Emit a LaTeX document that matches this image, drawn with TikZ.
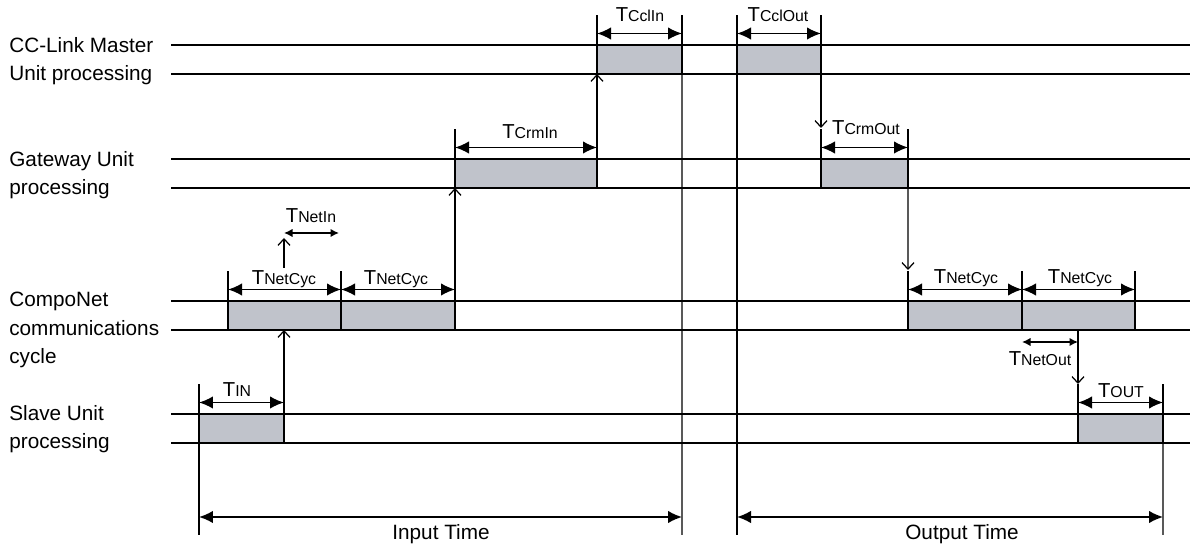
\documentclass[tikz,border=0pt]{standalone}
\usepackage{fontspec}
\setmainfont{Liberation Sans}
\usetikzlibrary{arrows.meta}

\definecolor{busygray}{RGB}{192,195,203}

\tikzset{
	lane/.style={line width=0.9pt},
	busy/.style={draw, line width=0.9pt, fill=busygray, inner sep=0pt, outer sep=0pt,
		anchor=north west, minimum height=0.58cm},
	tickline/.style={line width=0.7pt},
	dim/.style={{Latex[length=2.8mm,width=2.5mm]}-{Latex[length=2.8mm,width=2.5mm]}, line width=0.9pt},
	smalldim/.style={{Latex[length=1.7mm,width=1.7mm]}-{Latex[length=1.7mm,width=1.7mm]}, line width=0.9pt},
	flow/.style={-{Straight Barb[length=1.3mm,width=2.4mm]}, line width=0.7pt},
	lanelabel/.style={anchor=base west, align=left, inner sep=0pt,
		font=\fontsize{11.8}{16.5}\selectfont},
	tlabel/.style={anchor=base, inner sep=0pt, font=\fontsize{11.5}{14}\selectfont}
}

\newcommand{\tsub}[1]{T{\fontsize{9}{10}\selectfont #1}}

\begin{document}
\begin{tikzpicture}[x=0.02cm, y=-0.02cm]

\def \tick {30} % height of the ticks above a box, px
\def \tend {535} % lower end of the time lines

\useasboundingbox (0,0) rectangle (1190,546);

% lane labels (anchored on the last line)
\node[lanelabel] (lcc) at (9,81) {CC-Link Master\\Unit processing};
\node[lanelabel] (lgw) at (9,195) {Gateway Unit\\processing};
\node[lanelabel] (lcn) at (9,364) {CompoNet\\communications\\cycle};
\node[lanelabel] (lsl) at (9,449) {Slave Unit\\processing};

% lanes
\foreach \y in {45,159,301,414}
{
	\draw[lane] (171,\y) -- (1190,\y);
	\draw[lane] (171,\y+29) -- (1190,\y+29);
}

% busy boxes with their ticks
\foreach \n/\a/\b/\y in {sl1/199/284/414, cn1/228/341/301, cn2/341/455/301, gw1/455/597/159,
	cc1/597/682/45, cc2/737/821/45, gw2/821/908/159, cn3/908/1022/301, cn4/1022/1135/301,
	sl2/1078/1163/414}
{
	\node[busy, minimum width={(\b-\a)*0.02cm}] (\n) at (\a,\y) {};
	\draw[tickline] (\n.north west) -- ++(0,-\tick);
	\draw[tickline] (\n.north east) -- ++(0,-\tick);
	\draw[dim] ([yshift=0.23cm]\n.north west) -- ([yshift=0.23cm]\n.north east);
}

% time lines
\coordinate (inA) at (199,\tend);
\coordinate (inB) at (682,\tend);
\coordinate (outA) at (737,\tend);
\coordinate (outB) at (1163,\tend);
\draw[tickline] (sl1.north west) -- (inA);
\draw[tickline] (cc1.north east) -- (inB);
\draw[tickline] (cc2.north west) -- (outA);
\draw[tickline] (sl2.north east) -- (outB);
\draw[dim] ([yshift=0.36cm]inA) -- ([yshift=0.36cm]inB);
\draw[dim] ([yshift=0.36cm]outA) -- ([yshift=0.36cm]outB);

% input flow
\draw[flow] (sl1.south east) -- (sl1.south east |- cn1.south);
\coordinate (netinA) at (284,268);
\coordinate (netinB) at (284,238);
\coordinate (netinC) at (339,233);
\draw[flow] (netinA) -- (netinB);
\draw[smalldim] (netinB |- netinC) -- (netinC);
\draw[flow] (cn2.south east) -- (gw1.south west);
\draw[flow] (gw1.south east) -- (cc1.south west);

% output flow
\draw[flow] (cc2.south east) -- ([yshift=0.62cm]gw2.north west);
\draw[flow] (gw2.south east) -- ([yshift=0.62cm]cn3.north west);
\coordinate (netout) at (1078,342);
\draw[smalldim] (cn4.south west |- netout) -- (netout);
\draw[flow] (cn4.south west -| netout) -- ([yshift=0.6cm]sl2.north west);

% labels
\node[tlabel] (tin) at (237,397) {\tsub{IN}};
\node[tlabel] (tcyc1) at (284,285) {\tsub{NetCyc}};
\node[tlabel] (tcyc2) at (396,285) {\tsub{NetCyc}};
\node[tlabel] (tnetin) at (311,223) {\tsub{NetIn}};
\node[tlabel] (tcrmin) at (530,139) {\tsub{CrmIn}};
\node[tlabel] (tcclin) at (640,22) {\tsub{CclIn}};
\node[tlabel] (tcclout) at (778,22) {\tsub{CclOut}};
\node[tlabel] (tcrmout) at (866,135) {\tsub{CrmOut}};
\node[tlabel] (tcyc3) at (966,284) {\tsub{NetCyc}};
\node[tlabel] (tcyc4) at (1080,284) {\tsub{NetCyc}};
\node[tlabel] (tnetout) at (1040,366) {\tsub{NetOut}};
\node[tlabel] (tout) at (1121,398) {\tsub{OUT}};
\node[tlabel, font=\fontsize{11.8}{14}\selectfont] (input) at (441,540) {Input Time};
\node[tlabel, font=\fontsize{11.8}{14}\selectfont] (output) at (962,540) {Output Time};

\end{tikzpicture}
\end{document}
